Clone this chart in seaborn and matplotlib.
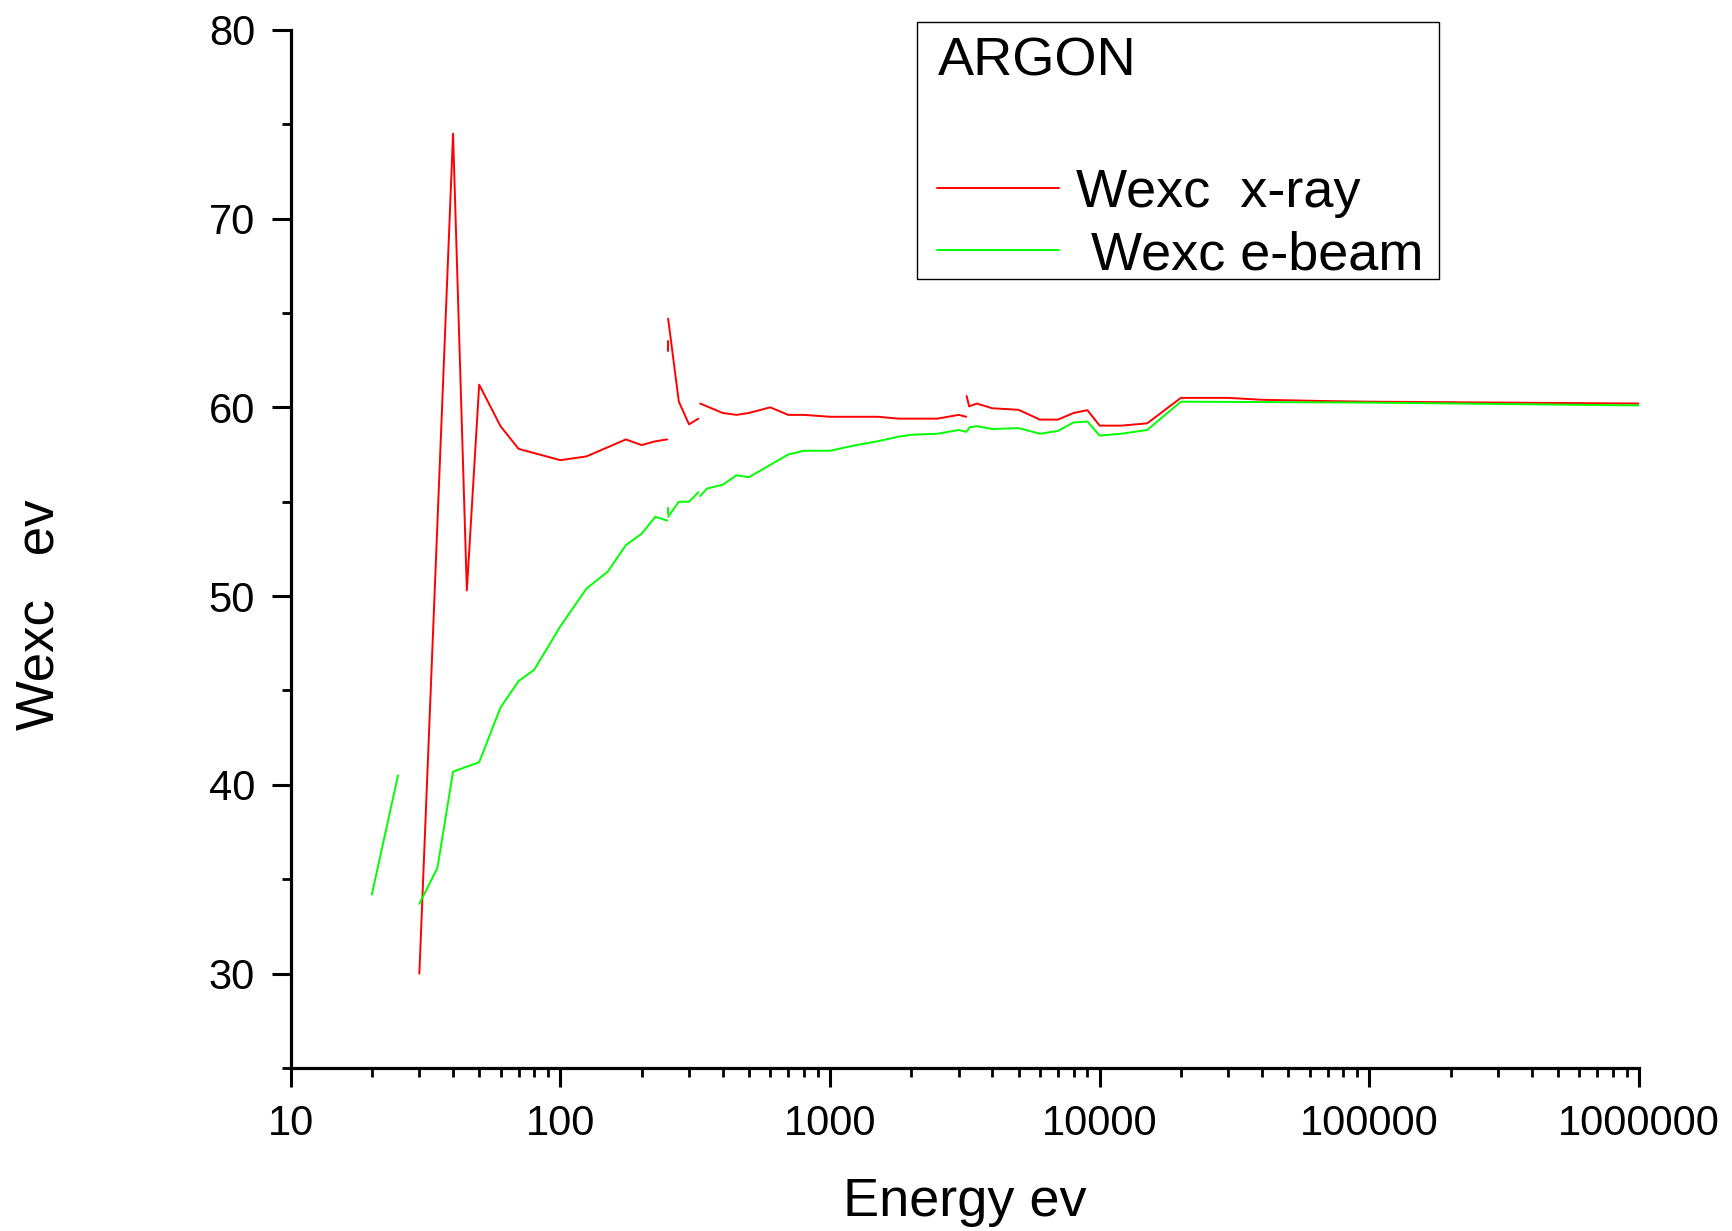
import numpy as np
import pandas as pd
import matplotlib
matplotlib.use("Agg")
import matplotlib.pyplot as plt
import seaborn as sns
from matplotlib.ticker import FixedLocator, LogLocator, NullFormatter, MultipleLocator
from matplotlib.patches import Rectangle
from matplotlib.lines import Line2D

# ---------------- data ----------------
xray_energy = [30, 40, 45, 50, 60, 70, 100, 125, 175, 200, 225, 249,
               250, 250,
               251, 275, 300, 325,
               330, 400, 450, 500, 600, 700, 800, 1000, 1500, 1800, 2500, 3000, 3200,
               3210, 3280, 3500, 4000, 5000, 6000, 7000, 8000, 9000, 10000, 12000, 15000,
               20000, 30000, 40000, 70000, 100000, 1000000]
xray_wexc = [30.0, 74.5, 50.3, 61.2, 59.0, 57.8, 57.2, 57.4, 58.3, 58.0, 58.2, 58.3,
             63.5, 63.0,
             64.7, 60.3, 59.1, 59.4,
             60.2, 59.7, 59.6, 59.7, 60.0, 59.6, 59.6, 59.5, 59.5, 59.4, 59.4, 59.6, 59.5,
             60.6, 60.05, 60.2, 59.95, 59.87, 59.35, 59.35, 59.7, 59.85, 59.03, 59.03, 59.15,
             60.5, 60.5, 60.4, 60.33, 60.3, 60.2]
xray_segment = ["xa"] * 12 + ["xb"] * 2 + ["xc"] * 4 + ["xd"] * 13 + ["xe"] * 18

ebeam_energy = [20, 25,
                30, 35, 40, 50, 60, 70, 80, 100, 125, 150, 175, 200, 225, 249,
                250, 250,
                251, 275, 300, 325,
                330, 350, 400, 450, 500, 700, 800, 1000, 1250, 1500, 1800, 2000, 2500,
                3000, 3200, 3300, 3500, 4000, 5000, 6000, 7000, 8000, 9000, 10000, 12000,
                15000, 20000, 100000, 1000000]
ebeam_wexc = [34.2, 40.5,
              33.7, 35.6, 40.7, 41.2, 44.1, 45.5, 46.1, 48.4, 50.4, 51.3, 52.7, 53.3, 54.2, 54.0,
              54.65, 54.35,
              54.2, 55.0, 55.0, 55.5,
              55.3, 55.7, 55.9, 56.4, 56.3, 57.5, 57.7, 57.7, 58.0, 58.2, 58.45, 58.55, 58.6,
              58.8, 58.7, 58.95, 59.0, 58.85, 58.9, 58.6, 58.75, 59.2, 59.25, 58.5, 58.6,
              58.8, 60.3, 60.25, 60.1]
ebeam_segment = ["ea"] * 2 + ["eb"] * 14 + ["ec"] * 2 + ["ed"] * 4 + ["ee"] * 29

series_names = ["Wexc  x-ray", " Wexc e-beam"]
series_colors = ["#FF0000", "#00FF00"]
legend_title = "ARGON"
x_ticks = [10, 100, 1000, 10000, 100000, 1000000]
x_tick_labels = ["10", "100", "1000", "10000", "100000", "1000000"]
y_ticks = [30, 40, 50, 60, 70, 80]
x_label = "Energy ev"
y_label = "Wexc   ev"

# ---------------- build table ----------------
df = pd.concat([
    pd.DataFrame({"energy": xray_energy, "wexc": xray_wexc,
                  "segment": xray_segment, "series": series_names[0]}),
    pd.DataFrame({"energy": ebeam_energy, "wexc": ebeam_wexc,
                  "segment": ebeam_segment, "series": series_names[1]}),
], ignore_index=True)

sns.set_theme(style="ticks", rc={
    "axes.edgecolor": "black", "xtick.color": "black", "ytick.color": "black",
    "text.color": "black", "axes.labelcolor": "black",
})
plt.rcParams["font.family"] = ["Liberation Sans", "DejaVu Sans"]

W, H = 1733, 1231
fig = plt.figure(figsize=(W / 100, H / 100), dpi=100)
fig.patch.set_facecolor("white")
ax = fig.add_axes([290.7 / W, 1 - 1068 / H, (1639 - 290.7) / W, (1068 - 29.8) / H])

palette = dict(zip(series_names, series_colors))
sns.lineplot(data=df, x="energy", y="wexc", hue="series", units="segment",
             estimator=None, sort=False, palette=palette, linewidth=1.4,
             legend=False, ax=ax)

ax.set_xscale("log")
ax.set_xlim(10, 1e6)
ax.set_ylim(25, 80)
ax.xaxis.set_major_locator(FixedLocator(x_ticks))
ax.set_xticklabels(x_tick_labels)
ax.xaxis.set_minor_locator(LogLocator(base=10, subs=np.arange(2, 10)))
ax.xaxis.set_minor_formatter(NullFormatter())
ax.set_yticks(y_ticks)
ax.set_yticklabels([str(v) for v in y_ticks])
ax.yaxis.set_minor_locator(MultipleLocator(5))

ax.tick_params(which="major", direction="out", length=13.7, width=2.2, labelsize=30, pad=12)
ax.tick_params(which="minor", direction="out", length=6.5, width=2.0)
for s in ["top", "right"]:
    ax.spines[s].set_visible(False)
for s in ["left", "bottom"]:
    ax.spines[s].set_linewidth(2.3)
    ax.spines[s].set_color("black")
ax.set_facecolor("white")
ax.grid(False)

ax.set_xlabel(x_label, fontsize=39)
ax.set_ylabel(y_label, fontsize=38)
ax.xaxis.set_label_coords(0.5, -0.105)
ax.yaxis.set_label_coords(-0.168, 0.437)

# ---------------- legend ----------------
handles = [Line2D([], [], color=c, linewidth=1.4) for c in series_colors]
leg = ax.legend(handles, series_names, loc="upper left",
                bbox_to_anchor=(937.5 / W, 1 - 167.5 / H), bbox_transform=fig.transFigure,
                frameon=False, borderpad=0, borderaxespad=0, handlelength=2.24,
                handletextpad=0.31, labelspacing=0.235, fontsize=39)
fig.text(937.5 / W, 1 - 75.7 / H, legend_title, fontsize=39, va="baseline", ha="left")
fig.patches.append(Rectangle((917 / W, 1 - 279 / H), 522 / W, 257 / H,
                             transform=fig.transFigure, fill=False,
                             edgecolor="black", linewidth=1.0))

fig.savefig("out.png", dpi=100, facecolor="white")
